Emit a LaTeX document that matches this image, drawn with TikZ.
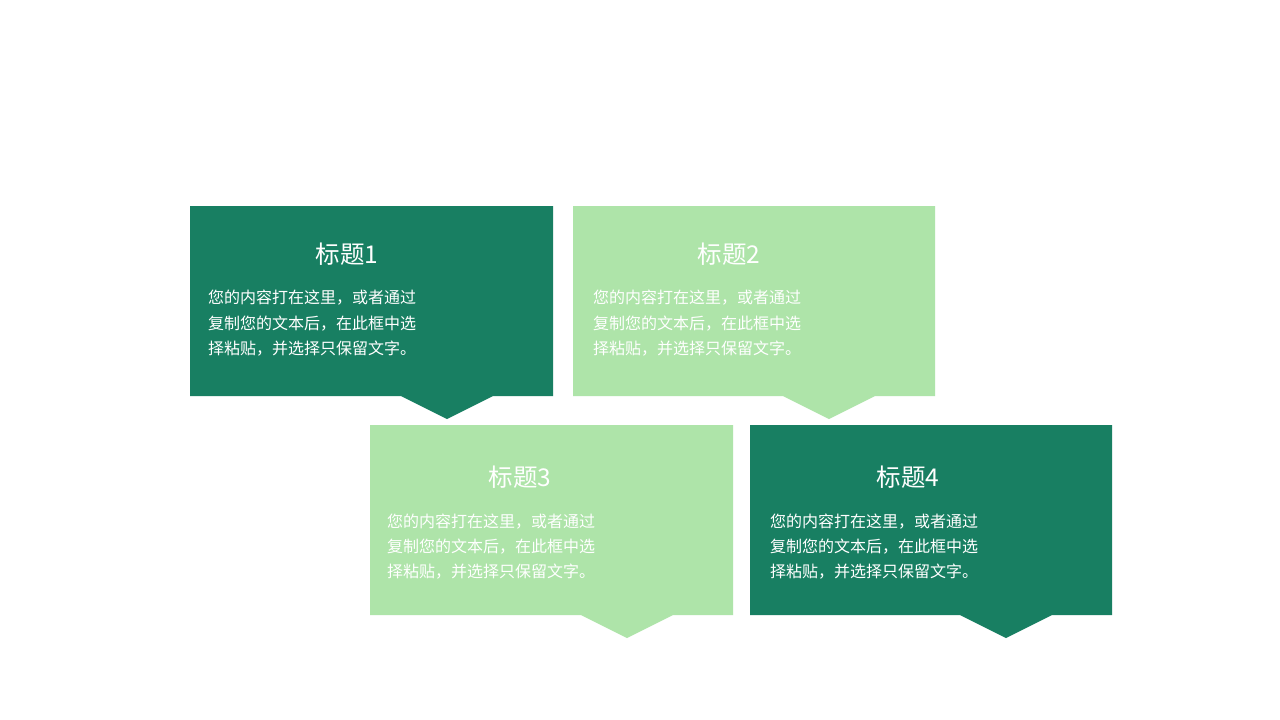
\documentclass[tikz,border=0pt]{standalone}
\usepackage{fontspec}
\newfontfamily\cjk{Noto Sans CJK SC}
\definecolor{darkg}{RGB}{24,127,98}
\definecolor{lightg}{RGB}{174,228,169}
\tikzset{
  titletext/.style={text=white,font=\cjk\fontsize{24.5}{28}\selectfont,inner sep=0pt,anchor=base},
  bodytext/.style={text=white,font=\cjk\fontsize{16}{20}\selectfont,inner sep=0pt,anchor=base west},
}
\begin{document}
\begin{tikzpicture}[x=1pt,y=-1pt]
\useasboundingbox[fill=white] (0,0) rectangle (1280,720);
% callout shapes
\fill[darkg]  (190,206) -- (553,206) -- (553,396) -- (493,396) -- (447,419) -- (401,396) -- (190,396) -- cycle;
\fill[lightg] (573,206) -- (935,206) -- (935,396) -- (875,396) -- (829,419) -- (783,396) -- (573,396) -- cycle;
\fill[lightg] (370,425) -- (733,425) -- (733,615) -- (673,615) -- (627,638) -- (581,615) -- (370,615) -- cycle;
\fill[darkg]  (750,425) -- (1112,425) -- (1112,615) -- (1052,615) -- (1006,638) -- (960,615) -- (750,615) -- cycle;
% box 1
\node[titletext] (t1) at (347,263) {标题1};
\node[bodytext] (a1) at (208,303) {您的内容打在这里，或者通过};
\node[bodytext] (b1) at (208,329) {复制您的文本后，在此框中选};
\node[bodytext] (c1) at (208,354) {择粘贴，并选择只保留文字。};
% box 2
\node[titletext] (t2) at (729,263) {标题2};
\node[bodytext] (a2) at (593,303) {您的内容打在这里，或者通过};
\node[bodytext] (b2) at (593,329) {复制您的文本后，在此框中选};
\node[bodytext] (c2) at (593,354) {择粘贴，并选择只保留文字。};
% box 3
\node[titletext] (t3) at (520,486) {标题3};
\node[bodytext] (a3) at (387,527) {您的内容打在这里，或者通过};
\node[bodytext] (b3) at (387,552) {复制您的文本后，在此框中选};
\node[bodytext] (c3) at (387,577) {择粘贴，并选择只保留文字。};
% box 4
\node[titletext] (t4) at (908,486) {标题4};
\node[bodytext] (a4) at (770,527) {您的内容打在这里，或者通过};
\node[bodytext] (b4) at (770,552) {复制您的文本后，在此框中选};
\node[bodytext] (c4) at (770,577) {择粘贴，并选择只保留文字。};
\end{tikzpicture}
\end{document}
